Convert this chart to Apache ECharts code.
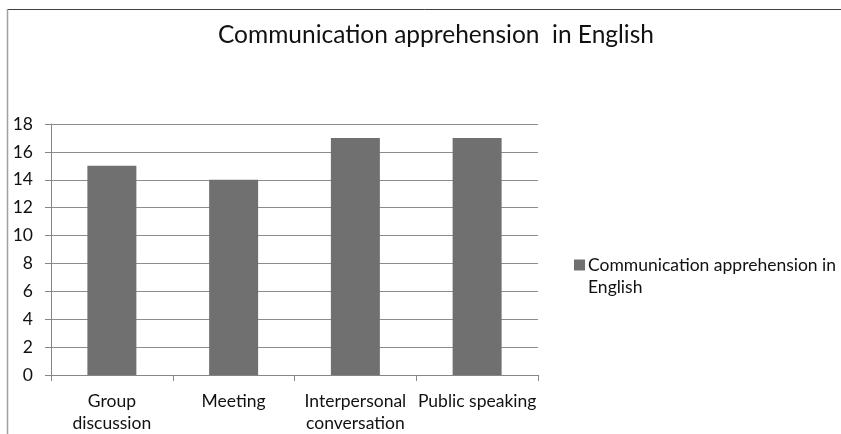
<!DOCTYPE html>
<html>
<head>
<meta charset="utf-8">
<script src="https://cdn.jsdelivr.net/npm/echarts@6/dist/echarts.min.js"></script>
<style>
  html, body { margin: 0; padding: 0; background: #fff; }
  #chart { width: 841px; height: 434px; }
</style>
</head>
<body>
<div id="chart"></div>
<script>
// Chart data
const categories = ['Group\ndiscussion', 'Meeting', 'Interpersonal\nconversation', 'Public speaking'];
const seriesName = 'Communication apprehension in English';
const values = [15, 14, 17, 17];
const yTicks = { min: 0, max: 18, interval: 2 };

const FONT = 'Lato';
const chart = echarts.init(document.getElementById('chart'), null, { renderer: 'canvas' });

// Legend marker: an 11px square sitting at the top of a taller box, so it
// lines up with the first line of the wrapped legend text.
const LEGEND_ICON_H = 33;
const legendIcon = 'path://M0,0h11v11h-11z M0,' + LEGEND_ICON_H;

chart.setOption({
  backgroundColor: '#ffffff',
  animation: false,
  title: {
    text: 'Communication apprehension  in English',
    left: 431,
    textAlign: 'center',
    top: 18,
    textStyle: { fontFamily: FONT, fontSize: 24.5, fontWeight: 'normal', color: '#111' }
  },
  legend: {
    left: 569,
    top: 249,
    orient: 'vertical',
    icon: legendIcon,
    itemWidth: 11,
    itemHeight: LEGEND_ICON_H,
    itemGap: 4,
    formatter: () => 'Communication apprehension in\nEnglish',
    textStyle: { fontFamily: FONT, fontSize: 17.5, color: '#111', lineHeight: 22, padding: [0, 0, 0, -2] }
  },
  grid: { left: 51, right: 303, top: 124, bottom: 58 },
  xAxis: {
    type: 'category',
    data: categories,
    axisLine: { lineStyle: { color: '#868686', width: 1 } },
    axisTick: { show: true, length: 6, alignWithLabel: false, lineStyle: { color: '#868686' } },
    axisLabel: { fontFamily: FONT, fontSize: 17.5, color: '#111', margin: 15, lineHeight: 22, interval: 0 }
  },
  yAxis: {
    type: 'value',
    min: yTicks.min,
    max: yTicks.max,
    interval: yTicks.interval,
    axisLine: { show: true, lineStyle: { color: '#868686', width: 1 } },
    axisTick: { show: true, length: 6, lineStyle: { color: '#868686' } },
    axisLabel: { fontFamily: FONT, fontSize: 17.5, color: '#111', margin: 18 },
    splitLine: { show: true, lineStyle: { color: '#8c8c8c', width: 1 } }
  },
  series: [{
    name: seriesName,
    type: 'bar',
    data: values,
    barWidth: 49,
    itemStyle: { color: '#707070' }
  }],
  graphic: [
    // outer chart-area border, partly cropped
    { type: 'line', shape: { x1: 7.5, y1: 9.5, x2: 841, y2: 9.5 }, style: { stroke: '#404040', lineWidth: 1 } },
    { type: 'line', shape: { x1: 7.5, y1: 9, x2: 7.5, y2: 434 }, style: { stroke: '#a0a0a0', lineWidth: 1.5 } }
  ]
});
</script>
</body>
</html>
